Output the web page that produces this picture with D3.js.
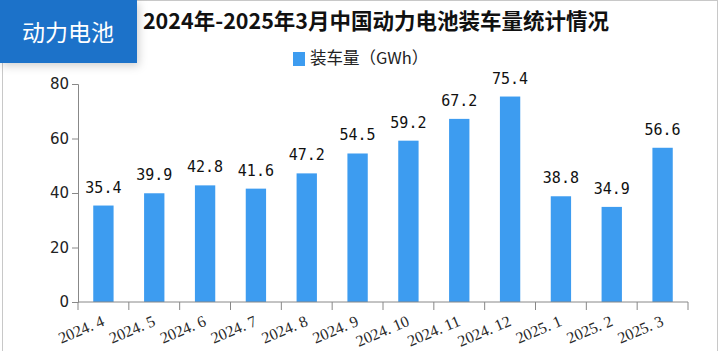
<!DOCTYPE html>
<html>
<head>
<meta charset="utf-8">
<script src="https://cdn.jsdelivr.net/npm/d3@7"></script>
<style>
  body { margin: 0; background: #fff; }
  svg { display: block; }
</style>
</head>
<body>
<svg id="chart"></svg>
<script>
const months = ["2024.4", "2024.5", "2024.6", "2024.7", "2024.8", "2024.9", "2024.10", "2024.11", "2024.12", "2025.1", "2025.2", "2025.3"];
const volume = [35.4, 39.9, 42.8, 41.6, 47.2, 54.5, 59.2, 67.2, 75.4, 38.8, 34.9, 56.6];
const yTicks = [0, 20, 40, 60, 80];

const width = 722, height = 351;
const margin = { top: 84, right: 34, bottom: 49, left: 78 };
const blue = "#3d9cf0";

const svg = d3.select("#chart").attr("width", width).attr("height", height);

const defs = svg.append("defs");
const shadow = defs.append("filter").attr("id", "shadow")
  .attr("x", "-20%").attr("y", "-20%").attr("width", "160%").attr("height", "160%");
shadow.append("feDropShadow")
  .attr("dx", 2).attr("dy", 3).attr("stdDeviation", 4)
  .attr("flood-color", "#000").attr("flood-opacity", 0.18);

// frame
svg.append("rect")
  .attr("x", 2.5).attr("y", 0.5)
  .attr("width", 715).attr("height", 360)
  .attr("fill", "none").attr("stroke", "#c8c8c8");

// badge
svg.append("rect")
  .attr("x", 0).attr("y", 0).attr("width", 137).attr("height", 63)
  .attr("fill", "#1f72c9")
  .attr("filter", "url(#shadow)");
svg.append("text")
  .attr("x", 68).attr("y", 41)
  .attr("text-anchor", "middle")
  .attr("fill", "#fff")
  .style("font", "23px 'Noto Sans CJK SC'")
  .text("动力电池");

// title
svg.append("text")
  .attr("x", 376).attr("y", 29)
  .attr("text-anchor", "middle")
  .attr("fill", "#111")
  .style("font", "bold 21.5px 'Noto Sans CJK SC'")
  .text("2024年-2025年3月中国动力电池装车量统计情况");

// legend
svg.append("rect")
  .attr("x", 293).attr("y", 52).attr("width", 12).attr("height", 14)
  .attr("fill", blue);
svg.append("text")
  .attr("x", 310).attr("y", 64)
  .attr("fill", "#222")
  .style("font", "16.5px 'Noto Sans CJK SC'")
  .text("装车量（GWh）");

const x = d3.scaleBand()
  .domain(months)
  .range([margin.left, width - margin.right])
  .paddingInner(0.6).paddingOuter(0.3);

const y = d3.scaleLinear()
  .domain([0, 80])
  .range([height - margin.bottom, margin.top]);

// y axis
const yAxis = svg.append("g")
  .attr("transform", `translate(${margin.left},0)`)
  .call(d3.axisLeft(y).tickValues(yTicks).tickSize(6).tickPadding(3));
yAxis.selectAll("path, line").attr("stroke", "#888");
yAxis.selectAll("text")
  .attr("fill", "#222")
  .style("font", "15px 'DejaVu Sans'");

// bars
svg.append("g").selectAll("rect")
  .data(volume)
  .join("rect")
  .attr("x", (d, i) => x(months[i]))
  .attr("y", d => y(d))
  .attr("width", x.bandwidth())
  .attr("height", d => y(0) - y(d))
  .attr("fill", blue);

// value labels
svg.append("g").selectAll("text")
  .data(volume)
  .join("text")
  .attr("x", (d, i) => x(months[i]) + x.bandwidth() / 2)
  .attr("y", d => y(d) - 13)
  .attr("text-anchor", "middle")
  .attr("fill", "#111")
  .style("font", "15px 'DejaVu Sans Mono'")
  .text(d => d.toFixed(1));

// x axis
const plotW = width - margin.left - margin.right;
const xAxis = svg.append("g")
  .attr("transform", `translate(0,${y(0)})`);
xAxis.append("line")
  .attr("x1", margin.left).attr("x2", width - margin.right)
  .attr("stroke", "#888");
xAxis.selectAll("line.tick")
  .data(d3.range(months.length + 1))
  .join("line")
  .attr("class", "tick")
  .attr("x1", i => margin.left + i * plotW / months.length)
  .attr("x2", i => margin.left + i * plotW / months.length)
  .attr("y1", 0).attr("y2", 8)
  .attr("stroke", "#888");
xAxis.selectAll("text")
  .data(months)
  .join("text")
  .attr("text-anchor", "end")
  .attr("transform", d => `translate(${x(d) + x.bandwidth() / 2 + 2},${23}) rotate(-23)`)
  .attr("fill", "#2a2a2a")
  .style("font", "16px 'Liberation Serif'")
  .text(d => d.replace(".", ". "));
</script>
</body>
</html>
